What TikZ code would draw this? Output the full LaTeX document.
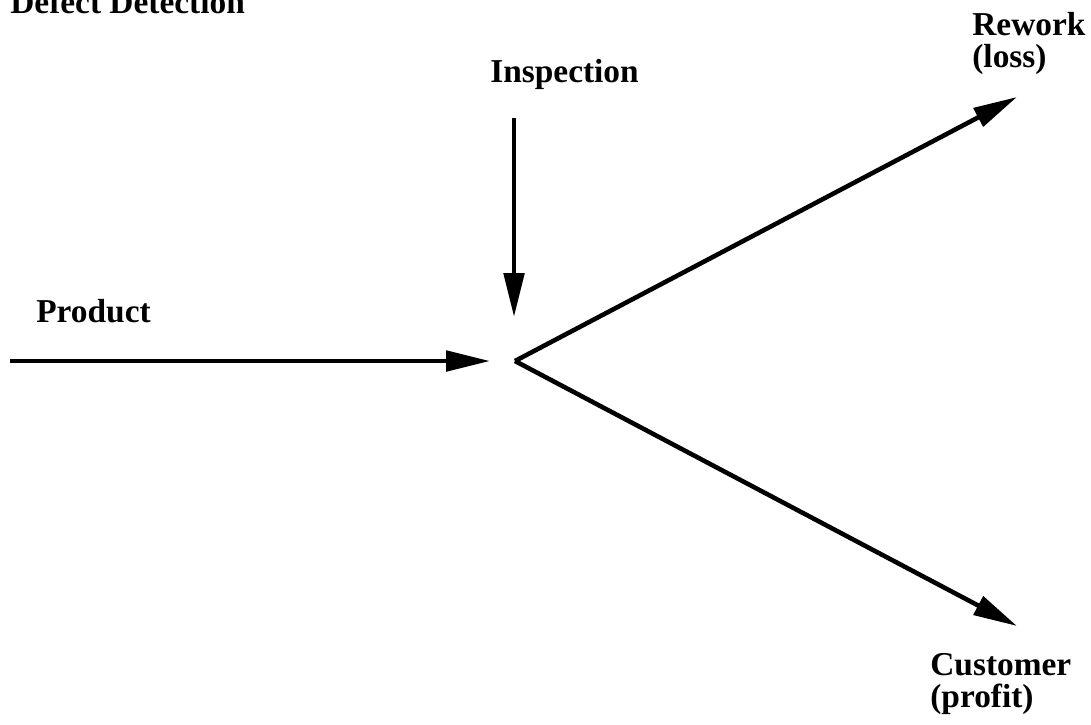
\documentclass[tikz,border=0pt]{standalone}
\usepackage{fontspec}
\setmainfont{Liberation Serif}
\usetikzlibrary{arrows.meta}
\begin{document}
\begin{tikzpicture}
    [
        x=0.02cm, y=-0.02cm,
        label/.style={font=\fontsize{19}{18}\selectfont\bfseries, inner sep=0pt, anchor=base west, align=left},
        flow/.style={line width=2.6pt, -{Triangle[length=25pt, width=11.5pt]}},
    ]
    \useasboundingbox (0,0) rectangle (1091,724);

    % labels (multi-line ones sit on their last baseline)
    \node (title)    at (10,13)   [label] {Defect Detection};
    \node (insp)     at (490,82)  [label] {Inspection};
    \node (prod)     at (36,322)  [label] {Product};
    \node (rework)   at (972,67)  [label] {Rework\\(loss)};
    \node (customer) at (930,707) [label] {Customer\\(profit)};

    % flow points
    \coordinate (start) at (10,361);
    \coordinate (hub)   at (515,361);
    \coordinate (top)   at (514,118);
    \coordinate (in)    at (490,361);
    \coordinate (down)  at (514,317);
    \coordinate (loss)  at (1017,97);
    \coordinate (gain)  at (1017,626);

    \draw [flow] (start) -- (in);
    \draw [flow] (top) -- (down);
    \draw [flow] (hub) -- (loss);
    \draw [flow] (hub) -- (gain);
\end{tikzpicture}
\end{document}
